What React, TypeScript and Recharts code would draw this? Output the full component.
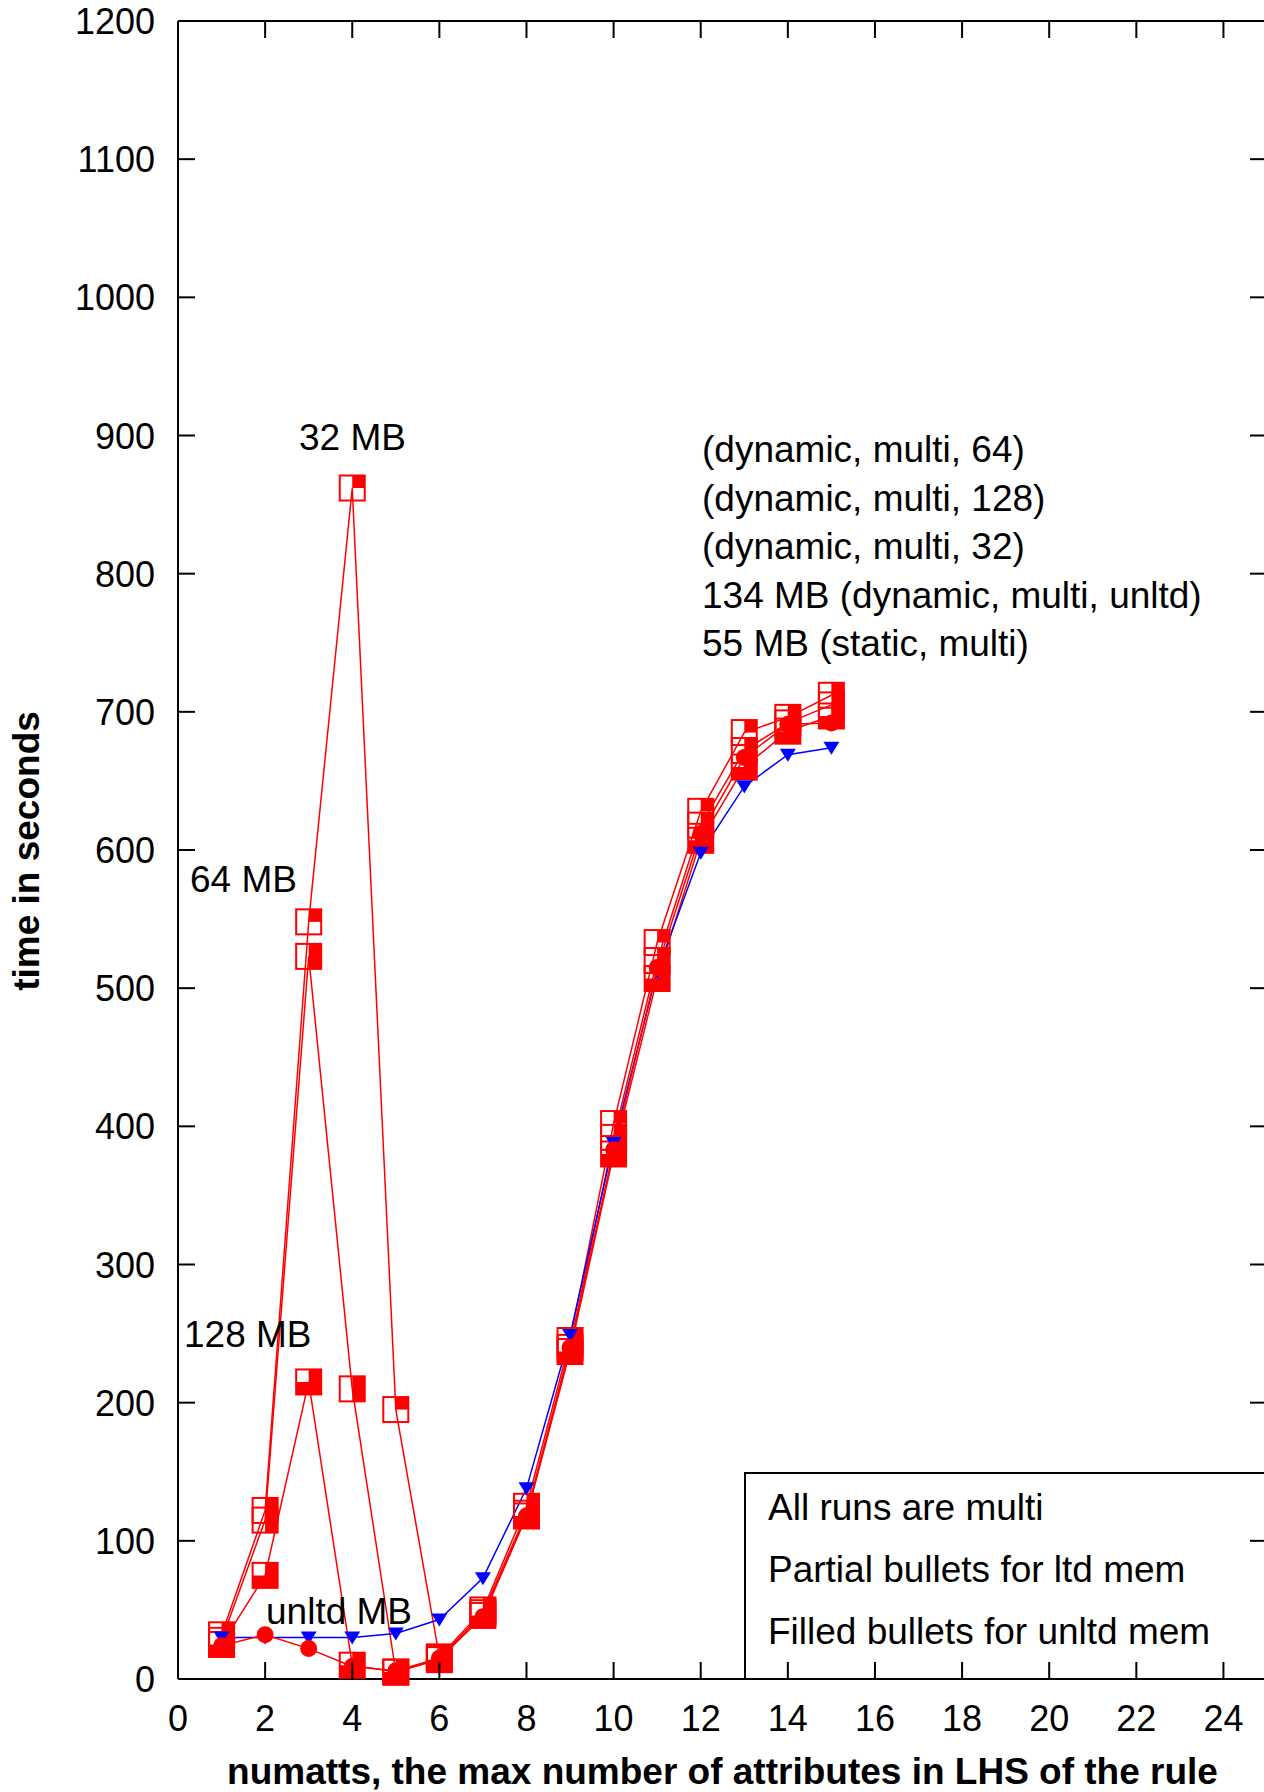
import { LineChart, Line, XAxis, YAxis, ReferenceLine } from 'recharts';

// numatts on the x axis
const numatts = [1, 2, 3, 4, 5, 6, 7, 8, 9, 10, 11, 12, 13, 14, 15];

// time in seconds per run
const dyn64 = [28, 115, 523, 210, 5, 15, 48, 120, 240, 392, 520, 618, 672, 692, 705];
const dyn128 = [25, 75, 215, 10, 5, 14, 46, 118, 237, 380, 507, 607, 660, 686, 697];
const dyn32 = [32, 122, 548, 862, 195, 16, 50, 125, 245, 402, 533, 628, 685, 696, 712];
const dynUnltd = [24, 32, 22, 9, 6, 15, 45, 118, 240, 383, 515, 612, 667, 691, 692];
const staticMulti = [30, 30, 30, 30, 33, 43, 73, 138, 249, 388, 512, 598, 646, 669, 674];

const xTicks = [0, 2, 4, 6, 8, 10, 12, 14, 16, 18, 20, 22, 24];
const yTicks = [0, 100, 200, 300, 400, 500, 600, 700, 800, 900, 1000, 1100, 1200];

const keyLabels = [
  '(dynamic, multi, 64)',
  '(dynamic, multi, 128)',
  '(dynamic, multi, 32)',
  '134 MB (dynamic, multi, unltd)',
  '55 MB (static, multi)',
];
const noteLines = ['All runs are multi', 'Partial bullets for ltd mem', 'Filled bullets for unltd mem'];

const rows = numatts.map((x, i) => ({
  x,
  dyn64: dyn64[i],
  dyn128: dyn128[i],
  dyn32: dyn32[i],
  dynUnltd: dynUnltd[i],
  staticMulti: staticMulti[i],
}));

const FONT = '"Liberation Sans", Arial, Helvetica, sans-serif';
const RED = '#ff0000';
const BLUE = '#0000ff';

const CHART_W = 1290;
const CHART_H = 1792;
const PLOT_LEFT = 178;
const PLOT_TOP = 21;
const PLOT_RIGHT = 1267;
const PLOT_BOTTOM = 1679;
const TICK = 17;
const H = 12.5; // half size of the square bullets

const XTick = ({ x, payload }: any) => (
  <g>
    <line x1={x} x2={x} y1={PLOT_BOTTOM} y2={PLOT_BOTTOM - TICK} stroke="#000" strokeWidth={2} />
    <line x1={x} x2={x} y1={PLOT_TOP} y2={PLOT_TOP + TICK} stroke="#000" strokeWidth={2} />
    <text x={x} y={1731} textAnchor="middle" fontFamily={FONT} fontSize={36} fill="#000">
      {payload.value}
    </text>
  </g>
);

const YTick = ({ y, payload }: any) => (
  <g>
    <line x1={PLOT_LEFT} x2={PLOT_LEFT + TICK} y1={y} y2={y} stroke="#000" strokeWidth={2} />
    <line x1={PLOT_RIGHT - TICK} x2={PLOT_RIGHT} y1={y} y2={y} stroke="#000" strokeWidth={2} />
    <text x={155} y={y + 13} textAnchor="end" fontFamily={FONT} fontSize={36} fill="#000">
      {payload.value}
    </text>
  </g>
);

// square with top-right quarter filled
const dot32 = ({ cx, cy, index }: any) => (
  <g key={`d32-${index}`}>
    <rect x={cx - H} y={cy - H} width={2 * H} height={2 * H} fill="none" stroke={RED} strokeWidth={2} />
    <rect x={cx} y={cy - H} width={H} height={H} fill={RED} />
  </g>
);

// square with right half filled
const dot64 = ({ cx, cy, index }: any) => (
  <g key={`d64-${index}`}>
    <rect x={cx - H} y={cy - H} width={2 * H} height={2 * H} fill="none" stroke={RED} strokeWidth={2} />
    <rect x={cx} y={cy - H} width={H} height={2 * H} fill={RED} />
  </g>
);

// square filled except the top-left quarter
const dot128 = ({ cx, cy, index }: any) => (
  <g key={`d128-${index}`}>
    <rect x={cx - H} y={cy - H} width={2 * H} height={2 * H} fill="none" stroke={RED} strokeWidth={2} />
    <path
      d={`M${cx},${cy - H} L${cx + H},${cy - H} L${cx + H},${cy + H} L${cx - H},${cy + H} L${cx - H},${cy} L${cx},${cy} Z`}
      fill={RED}
    />
  </g>
);

const dotUnltd = ({ cx, cy, index }: any) => <circle key={`du-${index}`} cx={cx} cy={cy} r={8.5} fill={RED} />;

const dotStatic = ({ cx, cy, index }: any) => (
  <path key={`ds-${index}`} d={`M${cx - 8},${cy - 6} L${cx + 8},${cy - 6} L${cx},${cy + 7} Z`} fill={BLUE} />
);

const App = () => {
  return (
    <div
      style={{
        position: 'absolute',
        left: 0,
        top: 0,
        width: 1264,
        height: 1792,
        overflow: 'hidden',
        background: '#fff',
      }}
    >
      <LineChart
        width={CHART_W}
        height={CHART_H}
        data={rows}
        margin={{ top: PLOT_TOP, right: CHART_W - PLOT_RIGHT, bottom: 0, left: 0 }}
      >
        <XAxis
          dataKey="x"
          type="number"
          domain={[0, 25]}
          ticks={xTicks}
          interval={0}
          height={CHART_H - PLOT_BOTTOM}
          tickLine={false}
          axisLine={{ stroke: '#000', strokeWidth: 2 }}
          tick={<XTick />}
        />
        <YAxis
          type="number"
          domain={[0, 1200]}
          ticks={yTicks}
          interval={0}
          width={PLOT_LEFT}
          tickLine={false}
          axisLine={{ stroke: '#000', strokeWidth: 2 }}
          tick={<YTick />}
        />
        <ReferenceLine y={1200} stroke="#000" strokeWidth={2} />
        <ReferenceLine x={25} stroke="#000" strokeWidth={2} />
        <Line dataKey="dyn64" type="linear" stroke={RED} strokeWidth={1.5} dot={dot64} activeDot={false} isAnimationActive={false} />
        <Line dataKey="dyn128" type="linear" stroke={RED} strokeWidth={1.5} dot={dot128} activeDot={false} isAnimationActive={false} />
        <Line dataKey="dyn32" type="linear" stroke={RED} strokeWidth={1.5} dot={dot32} activeDot={false} isAnimationActive={false} />
        <Line dataKey="staticMulti" type="linear" stroke={BLUE} strokeWidth={1.5} dot={dotStatic} activeDot={false} isAnimationActive={false} />
        <Line dataKey="dynUnltd" type="linear" stroke={RED} strokeWidth={1.5} dot={dotUnltd} activeDot={false} isAnimationActive={false} />
      </LineChart>
      <svg
        width={1264}
        height={1792}
        style={{ position: 'absolute', left: 0, top: 0, pointerEvents: 'none' }}
        fontFamily={FONT}
      >
        <g fontSize={37} fill="#000">
          <text x={299} y={450}>32 MB</text>
          <text x={190} y={892}>64 MB</text>
          <text x={184} y={1347}>128 MB</text>
          <text x={266} y={1624}>unltd MB</text>
          {keyLabels.map((t, i) => (
            <text key={t} x={702} y={462 + i * 48.5}>
              {t}
            </text>
          ))}
        </g>
        <rect x={745} y={1473} width={600} height={PLOT_BOTTOM - 1473} fill="none" stroke="#000" strokeWidth={2} />
        <g fontSize={37} fill="#000">
          {noteLines.map((t, i) => (
            <text key={t} x={768} y={1520 + i * 62}>
              {t}
            </text>
          ))}
        </g>
        <text x={(PLOT_LEFT + PLOT_RIGHT) / 2} y={1784} textAnchor="middle" fontSize={37} fontWeight="bold" fill="#000">
          numatts, the max number of attributes in LHS of the rule
        </text>
        <text transform="translate(39,851) rotate(-90)" textAnchor="middle" fontSize={37} fontWeight="bold" fill="#000">
          time in seconds
        </text>
      </svg>
    </div>
  );
};

export default App;
